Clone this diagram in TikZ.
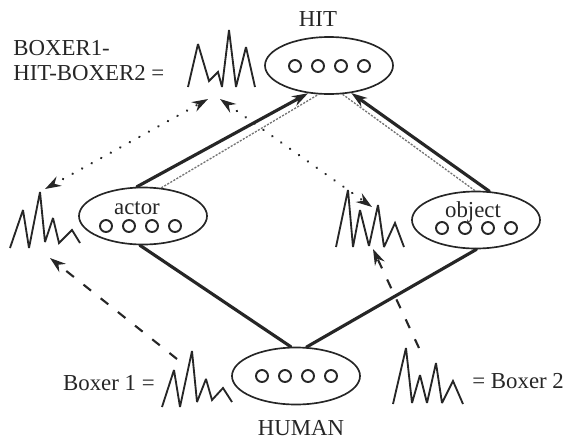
\documentclass[tikz,border=0pt]{standalone}
\usepackage{fontspec}
\setmainfont{Liberation Serif}
\usetikzlibrary{calc, arrows.meta, positioning, shapes}

\begin{document}
\begin{tikzpicture}[x=0.02cm, y=-0.02cm, >={Stealth[length=3.2mm, width=2.1mm]}, font=\fontsize{13}{14.2}\selectfont, color=black!85]
		\tikzstyle{frame} = [draw, ellipse, minimum width=128*0.02cm, minimum height=57*0.02cm, inner sep=0pt, line width=0.95pt]
		\tikzstyle{slot} = [draw, circle, minimum size=12*0.02cm, inner sep=0pt, line width=1.1pt]
		\tikzstyle{link} = [line width=1.8pt, line cap=round]
		\tikzstyle{trace} = [draw=black!55, line width=0.75pt, dash pattern=on 1.2pt off 0.8pt]
		\tikzstyle{spread} = [line width=1.4pt, dash pattern=on 0.1pt off 6.1pt, line cap=round]
		\tikzstyle{inherit} = [line width=1.2pt, dash pattern=on 5.5pt off 7pt]
		\tikzstyle{wave} = [line width=1.05pt, line join=miter, miter limit=3]
		
		\useasboundingbox (0, 0) rectangle (565, 440);
		
		\node[frame]	at (329, 65.5)		(hit)		{};
		\node[frame]	at (143, 216)		(actor)		{};
		\node[frame]	at (476, 220)		(object)	{};
		\node[frame]	at (296, 376)		(human)		{};
		
		\foreach \name/\px/\py in {hit/295/66, actor/106/226, object/442/228, human/262/376}
			\foreach \i in {0,...,3}
				\node[slot] at ({\px+\i*23}, \py) (\name\i) {};
		
		\node		at (318, 19)	(hitlabel)		{HIT};
		\node		at (301, 428)	(humanlabel)	{HUMAN};
		\node		at (137, 208)	(actorlabel)	{actor};
		\node		at (473, 212)	(objectlabel)	{object};
		\node[anchor=west, align=left, inner sep=0pt]	at (13, 61)	(pairlabel)	{BOXER1-\\HIT-BOXER2 =};
		\node[anchor=east, inner sep=0pt]	at (155, 383)	(boxeronelabel)	{Boxer 1 =};
		\node[anchor=west, inner sep=0pt]	at (472, 381)	(boxertwolabel)	{= Boxer 2};
		
		\coordinate (pairleft)	at (208, 99);
		\coordinate (pairright)	at (220, 99);
		\coordinate (actortip)	at (45, 189);
		\coordinate (objecttip)	at (372, 207);
		\coordinate (actorin)	at (50, 258);
		\coordinate (objectin)	at (373, 249);
		\coordinate (boxerone)	at (177, 359);
		\coordinate (boxertwo)	at (419, 348);
		
		\draw [wave] (188, 87) -- (198, 44) -- (209, 81) -- (218, 72) -- (222, 87) -- (229, 30) -- (236, 87) -- (246, 47) -- (255, 87);
		\draw [wave] (10, 248) -- (23, 210) -- (29, 248) -- (40, 192) -- (45, 242) -- (53, 218) -- (59, 243) -- (72, 230) -- (80, 243);
		\draw [wave] (336, 247) -- (348, 190) -- (353, 247) -- (360, 210) -- (369, 246) -- (378, 205) -- (384, 247) -- (395, 223) -- (404, 247);
		\draw [wave] (162, 407) -- (174, 370) -- (180, 407) -- (192, 351) -- (197, 402) -- (206, 379) -- (212, 400) -- (223, 388) -- (232, 402);
		\draw [wave] (393, 404) -- (406, 348) -- (412, 403) -- (420, 375) -- (427, 403) -- (436, 363) -- (442, 403) -- (453, 381) -- (463, 404);
		
		\draw [trace] (actor.57) -- (hit.250);
		\draw [trace] (object.92) -- (hit.295);
		
		\draw [link, ->] (actor.102) -- (hit.233);
		\draw [link, ->] (object.65) -- (hit.309);
		\draw [link] (human.100) -- (actor.264);
		\draw [link] (human.70) -- (object.271);
		
		\draw [spread, <->] (actortip) -- (pairleft);
		\draw [spread, <->] (pairright) -- (objecttip);
		\draw [inherit, ->] (boxerone) -- (actorin);
		\draw [inherit, ->] (boxertwo) -- (objectin);
	\end{tikzpicture}
\end{document}
